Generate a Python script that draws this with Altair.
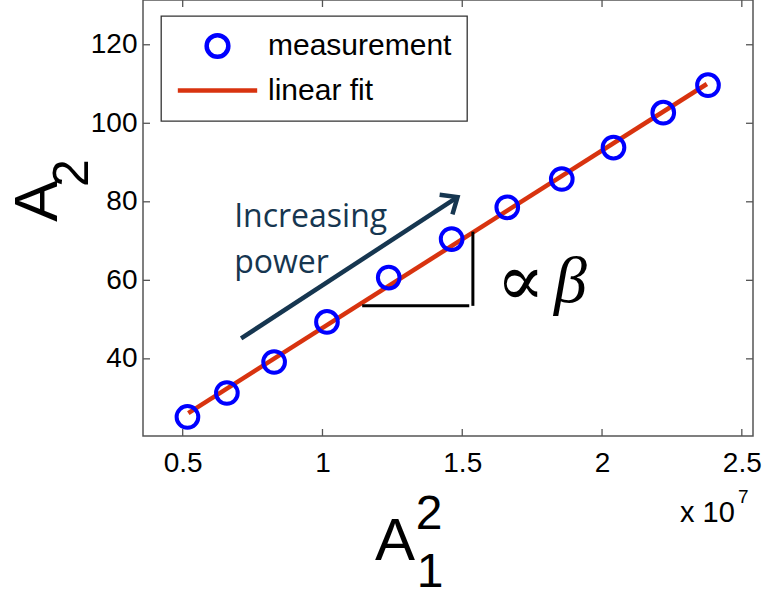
import math
import altair as alt
import pandas as pd

# ---- data (x in units of 1e7) ----
meas_x = [0.517, 0.658, 0.827, 1.016, 1.237, 1.462, 1.661, 1.856, 2.041, 2.219, 2.379]
meas_y = [25.2, 31.3, 39.2, 49.4, 60.7, 70.5, 78.6, 85.8, 93.8, 102.7, 109.7]
fit_x = [0.52, 2.375]
fit_y = [26.2, 110.0]
x_ticks = [0.5, 1.0, 1.5, 2.0, 2.5]
y_ticks = [40, 60, 80, 100, 120]
series_names = ["measurement", "linear fit"]

# annotation anchors (data coordinates)
arrow_start = (0.709, 45.2)
arrow_end = (1.483, 81.2)
tri_h = (1.142, 1.525, 53.5)
tri_v = (1.538, 53.5, 72.4)
note_lines = ["Increasing", "power"]
note_x = 0.684
note_y = [73.6, 61.8]

X_DOM = [0.358, 2.54]
Y_DOM = [20.35, 131.4]
W, H = 610, 436

BLUE = "#0000ff"
RED = "#d8330f"
NAVY = "#163650"
FONT = "Liberation Sans"

xs = alt.Scale(domain=X_DOM, nice=False, zero=False)
ys = alt.Scale(domain=Y_DOM, nice=False, zero=False)

meas = pd.DataFrame({"x": meas_x, "y": meas_y, "series": series_names[0]})
fit = pd.DataFrame({"x": fit_x, "y": fit_y, "series": series_names[1]})

leg = alt.Legend(orient="none", legendX=18, legendY=16, title=None,
                 labelFont=FONT, labelFontSize=30, labelColor="black", labelLimit=400,
                 labelOffset=35, symbolOffset=26, symbolStrokeWidth=4.5, padding=15,
                 symbolOpacity=1, rowPadding=9, strokeColor="#333333", fillColor="white")

color = alt.Color("series:N", scale=alt.Scale(domain=series_names, range=[BLUE, RED]), legend=leg)

xax = alt.Axis(values=x_ticks, format="~g", labelPadding=13, title=None)
yax = alt.Axis(values=y_ticks, labelPadding=6, title=None)

line = alt.Chart(fit).mark_line(strokeWidth=4.5, opacity=1).encode(
    x=alt.X("x:Q", scale=xs, axis=xax),
    y=alt.Y("y:Q", scale=ys, axis=yax),
    color=color,
)

points = alt.Chart(meas).mark_point(filled=False, strokeWidth=4, opacity=1).encode(
    x=alt.X("x:Q", scale=xs),
    y=alt.Y("y:Q", scale=ys),
    color=color,
    shape=alt.Shape("series:N", scale=alt.Scale(domain=series_names, range=["circle", "M -3 0 L 3 0"]), legend=leg),
    size=alt.Size("series:N", scale=alt.Scale(type="ordinal", domain=series_names, range=[470, 700]), legend=leg),
)

# inward ticks on all four sides
xt = pd.DataFrame({"v": x_ticks})
yt = pd.DataFrame({"v": y_ticks})
TL = 7
tick_style = dict(color="#555555", strokeWidth=1.3)
xb = alt.Chart(xt).mark_rule(**tick_style).encode(x=alt.X("v:Q", scale=xs), y=alt.value(H), y2=alt.value(H - TL))
xtop = alt.Chart(xt).mark_rule(**tick_style).encode(x=alt.X("v:Q", scale=xs), y=alt.value(0), y2=alt.value(TL))
yl = alt.Chart(yt).mark_rule(**tick_style).encode(y=alt.Y("v:Q", scale=ys), x=alt.value(0), x2=alt.value(TL))
yr = alt.Chart(yt).mark_rule(**tick_style).encode(y=alt.Y("v:Q", scale=ys), x=alt.value(W), x2=alt.value(W - TL))

# arrow
arr = pd.DataFrame({"x": [arrow_start[0]], "y": [arrow_start[1]], "x2": [arrow_end[0]], "y2": [arrow_end[1]]})
shaft = alt.Chart(arr).mark_rule(color=NAVY, strokeWidth=4.5).encode(
    x=alt.X("x:Q", scale=xs), y=alt.Y("y:Q", scale=ys), x2="x2:Q", y2="y2:Q")
dxp = (arrow_end[0] - arrow_start[0]) / (X_DOM[1] - X_DOM[0]) * W
dyp = -(arrow_end[1] - arrow_start[1]) / (Y_DOM[1] - Y_DOM[0]) * H
ang = math.degrees(math.atan2(dyp, dxp)) + 90
head = alt.Chart(arr).mark_point(
    shape="M -0.65 0.76 L 0 0 L 0.65 0.76", filled=False, color=NAVY,
    strokeWidth=4.5, size=1300, angle=ang, opacity=1, strokeJoin="miter").encode(
    x=alt.X("x2:Q", scale=xs), y=alt.Y("y2:Q", scale=ys))

# slope triangle
tri = pd.DataFrame({"x": [tri_h[0], tri_v[0]], "x2": [tri_h[1], tri_v[0]],
                    "y": [tri_h[2], tri_v[1]], "y2": [tri_h[2], tri_v[2]]})
triangle = alt.Chart(tri).mark_rule(color="black", strokeWidth=3).encode(
    x=alt.X("x:Q", scale=xs), y=alt.Y("y:Q", scale=ys), x2="x2:Q", y2="y2:Q")

# "Increasing power"
notes = pd.DataFrame({"x": [note_x, note_x], "y": note_y, "t": note_lines})
note = alt.Chart(notes).mark_text(align="left", baseline="alphabetic", font="Open Sans",
                                  fontSize=32, color=NAVY).encode(
    x=alt.X("x:Q", scale=xs), y=alt.Y("y:Q", scale=ys), text="t:N")

# proportional-to-beta label
sym = pd.DataFrame({"x": [1.622], "y": [53.8], "t": ["\u221d"]})
beta = pd.DataFrame({"x": [1.828], "y": [54.4], "t": ["\u03b2"]})
prop = alt.Chart(sym).mark_text(align="left", baseline="alphabetic", font="Liberation Serif, DejaVu Serif",
                                fontSize=72, color="black").encode(
    x=alt.X("x:Q", scale=xs), y=alt.Y("y:Q", scale=ys), text="t:N")
beta_t = alt.Chart(beta).mark_text(align="left", baseline="alphabetic", font="Liberation Serif, DejaVu Serif",
                                   fontSize=66, fontStyle="italic", color="black").encode(
    x=alt.X("x:Q", scale=xs), y=alt.Y("y:Q", scale=ys), text="t:N")

# axis titles composed from text
one = pd.DataFrame({"a": [0]})
def txt(s, x, y, size, align="center", angle=0):
    return alt.Chart(one).mark_text(text=s, font=FONT, fontSize=size, color="black",
                                    align=align, baseline="alphabetic", angle=angle).encode(
        x=alt.value(x), y=alt.value(y))

xtitle = txt("A", 252, 560, 60) + txt("2", 286, 529, 48) + txt("1", 287, 587, 48)
ytitle = txt("A", -86, 201, 62, angle=270) + txt("2", -55, 173, 50, angle=270)
mult = txt("x 10", 537, 522, 29, align="left") + txt("7", 595, 503, 19, align="left")

chart = alt.layer(
    line, points, xb, xtop, yl, yr, triangle, shaft, head, note, prop, beta_t,
    xtitle, ytitle, mult,
).properties(
    width=W, height=H,
    padding={"left": 143, "top": 0, "right": 12, "bottom": 160},
    autosize="none",
).configure_view(
    stroke="#555555", strokeWidth=1.5
).configure_axis(
    grid=False, domain=False, ticks=False, tickSize=0,
    labelFont=FONT, labelFontSize=28, labelColor="black",
).configure_legend(
    strokeWidth=1.3, cornerRadius=0
)

chart.save("out.html", embed_options={"renderer": "svg", "actions": False})
